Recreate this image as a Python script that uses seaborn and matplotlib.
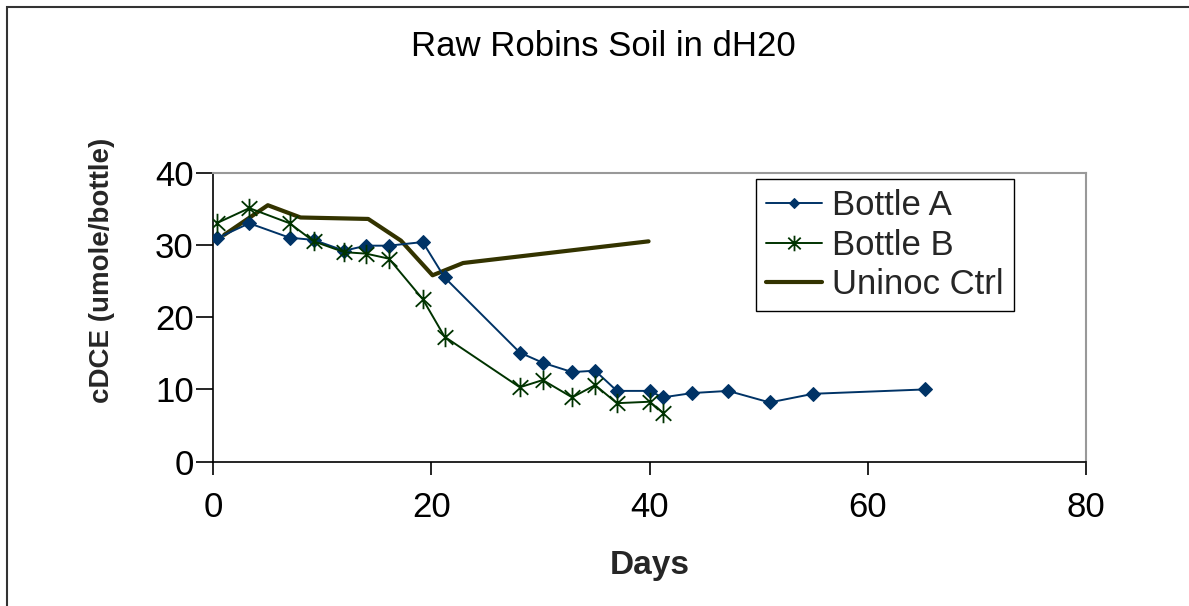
import numpy as np
import pandas as pd
import matplotlib
matplotlib.use("Agg")
import matplotlib.pyplot as plt
from matplotlib.path import Path
from matplotlib.patches import Rectangle
from matplotlib import font_manager
import seaborn as sns

# Sampling days and cDCE measurements (umole/bottle)
days_a = [0.3, 3.3, 7.0, 9.2, 12.0, 14.0, 16.1, 19.2, 21.2, 28.1, 30.2, 32.9,
          35.0, 37.0, 40.0, 41.2, 43.9, 47.2, 51.0, 55.0, 65.2]
bottle_a = [30.9, 33.0, 31.0, 30.7, 29.2, 29.9, 29.9, 30.4, 25.5, 15.1, 13.7, 12.4,
            12.6, 9.8, 9.8, 8.9, 9.5, 9.8, 8.2, 9.4, 10.0]

days_b = [0.3, 3.3, 7.0, 9.2, 12.0, 14.0, 16.1, 19.2, 21.2, 28.1, 30.2, 32.9,
          35.0, 37.0, 40.0, 41.2]
bottle_b = [33.0, 35.1, 33.0, 30.5, 29.0, 28.8, 28.1, 22.5, 17.3, 10.3, 11.3, 8.9,
            10.6, 8.1, 8.3, 6.8]

days_ctrl = [1.0, 5.0, 8.0, 14.2, 17.2, 20.1, 22.9, 39.9]
uninoc_ctrl = [31.4, 35.5, 33.8, 33.6, 30.6, 25.8, 27.5, 30.5]

series_labels = ["Bottle A", "Bottle B", "Uninoc Ctrl"]
x_ticks = [0, 20, 40, 60, 80]
y_ticks = [0, 10, 20, 30, 40]

sns.set_theme(style="white")
plt.rcParams["font.family"] = ["Liberation Sans", "DejaVu Sans"]

# Narrow face for the vertical axis title, when available
installed = {f.name for f in font_manager.fontManager.ttflist}
if "Liberation Sans Narrow" in installed:
    ylabel_family, ylabel_size = ["Liberation Sans Narrow"], 23
else:
    ylabel_family, ylabel_size = ["Liberation Sans"], 20

W, H = 1189, 606
fig = plt.figure(figsize=(W / 100, H / 100), dpi=100)
fig.patch.set_facecolor("white")

left, right, top, bottom = 213.3, 1086.0, 172.7, 461.7
ax = fig.add_axes([left / W, 1 - bottom / H, (right - left) / W, (bottom - top) / H])
ax.set_facecolor("white")

# Star marker: vertical stroke plus an X
star = Path(
    [(0, -1), (0, 1), (-0.8, -0.75), (0.8, 0.75), (-0.8, 0.75), (0.8, -0.75)],
    [Path.MOVETO, Path.LINETO, Path.MOVETO, Path.LINETO, Path.MOVETO, Path.LINETO],
)

df_a = pd.DataFrame({"day": days_a, "value": bottle_a})
df_b = pd.DataFrame({"day": days_b, "value": bottle_b})
df_c = pd.DataFrame({"day": days_ctrl, "value": uninoc_ctrl})

sns.lineplot(data=df_c, x="day", y="value", ax=ax, color="#333300", linewidth=3.0,
             label=series_labels[2], sort=False, zorder=2)
sns.lineplot(data=df_a, x="day", y="value", ax=ax, color="#003366", linewidth=1.4,
             marker="D", markersize=7, markeredgecolor="#003366",
             label=series_labels[0], sort=False, zorder=3)
sns.lineplot(data=df_b, x="day", y="value", ax=ax, color="#003300", linewidth=1.4,
             marker=star, markersize=14, markeredgewidth=1.3, markeredgecolor="#003300",
             markerfacecolor="none", label=series_labels[1], sort=False, zorder=4)

ax.set_xlim(0, 80)
ax.set_ylim(0, 40)
ax.set_xticks(x_ticks)
ax.set_yticks(y_ticks)
ax.tick_params(axis="both", which="major", direction="out", width=1.2,
               color="black", labelsize=25, labelcolor="black", bottom=True, left=True)
ax.tick_params(axis="x", length=9, pad=12)
ax.tick_params(axis="y", length=12, pad=2)

for side in ["left", "bottom"]:
    ax.spines[side].set_color("black")
    ax.spines[side].set_linewidth(1.2)
for side in ["top", "right"]:
    ax.spines[side].set_color("#999999")
    ax.spines[side].set_linewidth(1.5)

ax.set_xlabel("Days", fontsize=24, fontweight="bold", labelpad=19)
ax.set_ylabel("cDCE (umole/bottle)", fontsize=ylabel_size, fontweight="bold",
              family=ylabel_family)
ax.yaxis.set_label_coords((115 - left) / (right - left), (bottom - 270) / (bottom - top))

fig.text(603 / W, 1 - 46 / H, "Raw Robins Soil in dH20", ha="center", va="center",
         fontsize=25, color="black")

handles, labels = ax.get_legend_handles_labels()
order = [labels.index(l) for l in series_labels]
leg = ax.legend([handles[i] for i in order], [labels[i] for i in order],
                loc="upper left", bbox_to_anchor=(756 / W, 1 - 179 / H),
                bbox_transform=fig.transFigure, fontsize=25, frameon=True,
                fancybox=False, edgecolor="black", framealpha=1,
                handlelength=1.6, handletextpad=0.3, labelspacing=0.18,
                borderpad=0.3, borderaxespad=0)
leg.get_frame().set_linewidth(1.0)
for h in leg.legend_handles:
    h.set_markersize(h.get_markersize() * 0.8)

# Outer chart border (left and top edges visible)
fig.add_artist(Rectangle((7 / W, -0.1), 2, 1.1 - 7 / H, transform=fig.transFigure,
                         fill=False, edgecolor="#333333", linewidth=1.5))

fig.savefig("out.png", dpi=100, facecolor="white")
